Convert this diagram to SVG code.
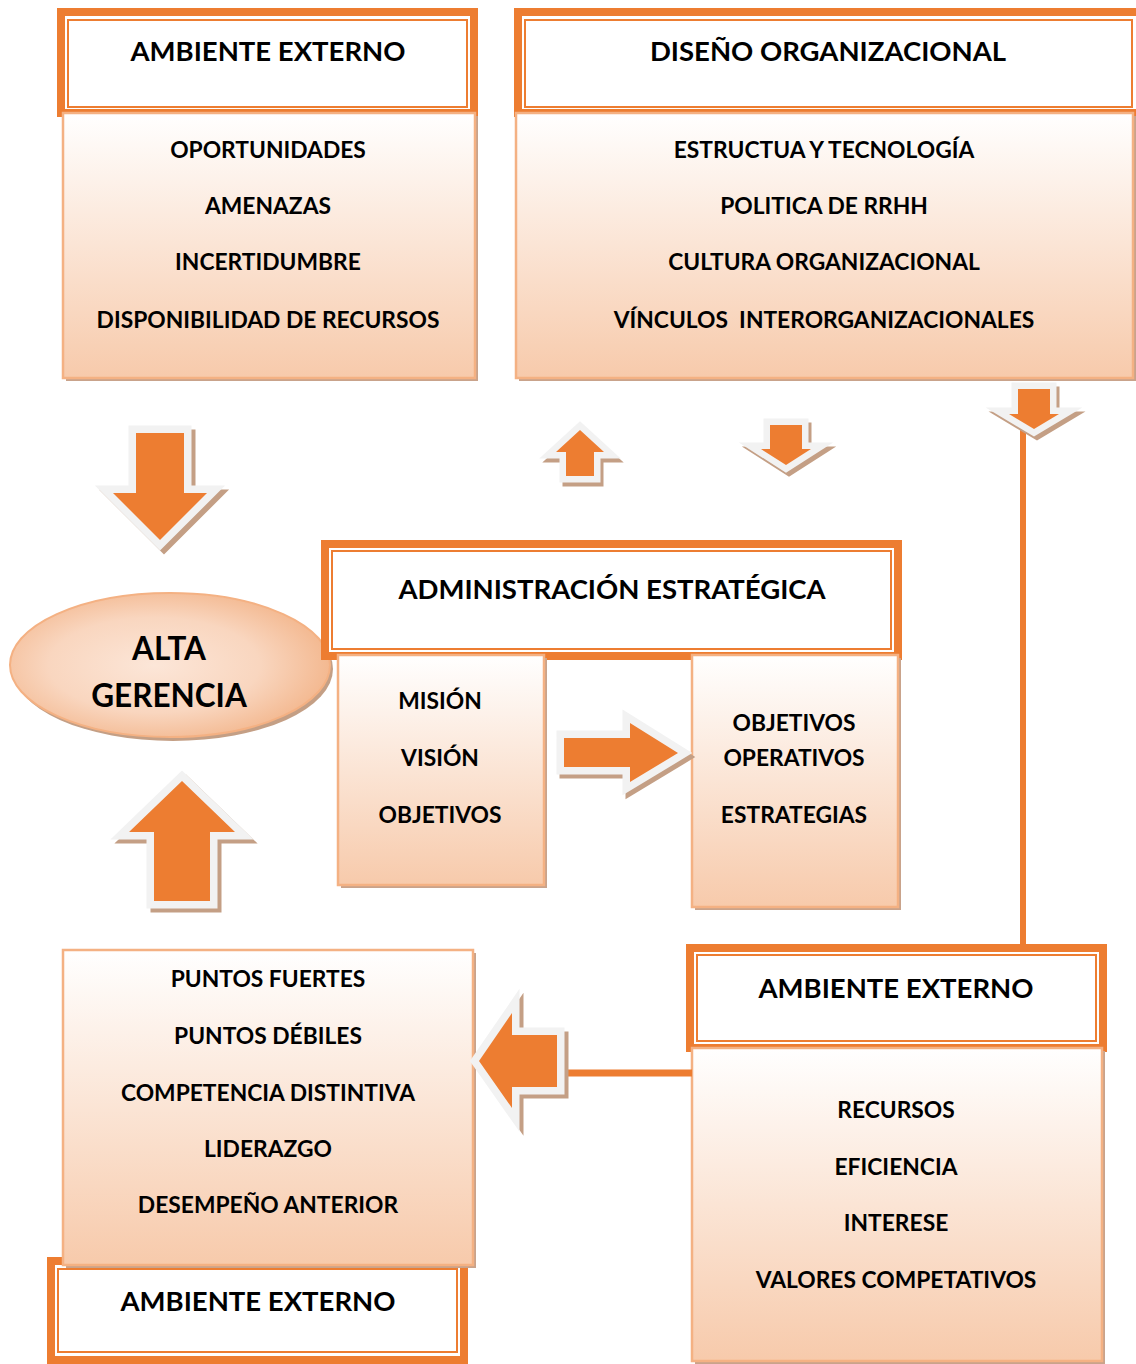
<svg xmlns="http://www.w3.org/2000/svg" xmlns:xlink="http://www.w3.org/1999/xlink" width="1136" height="1364" viewBox="0 0 1136 1364">
<style>
.frame{fill:#fff;stroke:#ED7D31;stroke-width:8}
.thin{fill:none;stroke:#ED7D31;stroke-width:2}
.box{fill:url(#gBox);stroke:#F4B183;stroke-width:2.5}
.bshadow{fill:#C9A38B}
.tt{font-family:Lato,"Open Sans",sans-serif;font-weight:bold;font-size:27.5px;fill:#000;text-anchor:middle}
.it{font-family:Lato,"Open Sans",sans-serif;font-weight:bold;font-size:22.8px;fill:#000;text-anchor:middle}
.big{font-family:Lato,"Open Sans",sans-serif;font-weight:bold;font-size:31.5px;fill:#000;text-anchor:middle}
.ash{fill:#C49F85;stroke:#C49F85;stroke-width:15;stroke-linejoin:miter}
.aol{fill:#F2F2F2;stroke:#F2F2F2;stroke-width:15;stroke-linejoin:miter}
.afi{fill:#ED7D31;stroke:none}
.line{stroke:#ED7D31;fill:none}
</style>
<defs>
<linearGradient id="gBox" x1="0" y1="0" x2="0" y2="1">
<stop offset="0" stop-color="#FFFFFF"/>
<stop offset="1" stop-color="#F7CAAB"/>
</linearGradient>
<radialGradient id="gEll" cx="0.45" cy="0.5" r="0.6">
<stop offset="0" stop-color="#FCE6D8"/>
<stop offset="0.55" stop-color="#F9D6BF"/>
<stop offset="1" stop-color="#F2B286"/>
</radialGradient>
<path id="a1" d="M136,433 H184 V493 H207 L160,540 L113,493 H136 Z"/>
<path id="a2" d="M580,430 L604,452 H594 V476 H566 V452 H556 Z"/>
<path id="a3" d="M770,425 H802 V449 H811 L786,465 L761,449 H770 Z"/>
<path id="a4" d="M1018,389 H1050 V414 H1059 L1034,429 L1009,414 H1018 Z"/>
<path id="a5" d="M564,738 H630 V723 L678,753 L630,782 V767 H564 Z"/>
<path id="a6" d="M182,781 L235,832 H210 V901 H154 V832 H129 Z"/>
<path id="a7" d="M479,1061 L512,1013 V1035 H557 V1087 H512 V1108 Z"/>
</defs>
<rect x="0" y="0" width="1136" height="1364" fill="#fff"/>

<g id="alta-gerencia">
<ellipse cx="173" cy="669" rx="160" ry="72" fill="#C49F85"/>
<ellipse cx="170" cy="665" rx="160" ry="72" fill="url(#gEll)" stroke="#F4B183" stroke-width="2"/>
<text class="big" x="169" y="660">ALTA</text>
<text class="big" x="169" y="707">GERENCIA</text>
</g>

<g id="ambiente-externo-1">
<rect class="frame" x="61" y="12" width="413" height="101"/>
<rect class="thin" x="68" y="20" width="399" height="87"/>
<text class="tt" x="268" y="61">AMBIENTE EXTERNO</text>
<rect class="bshadow" x="66" y="116" width="412" height="265"/>
<rect class="box" x="63" y="113" width="412" height="265"/>
<text class="it" x="268" y="158">OPORTUNIDADES</text>
<text class="it" x="268" y="214">AMENAZAS</text>
<text class="it" x="268" y="270">INCERTIDUMBRE</text>
<text class="it" x="268" y="328">DISPONIBILIDAD DE RECURSOS</text>
</g>

<g id="diseno-organizacional">
<rect class="frame" x="518" y="12" width="630" height="101"/>
<rect class="thin" x="525" y="20" width="607" height="87"/>
<text class="tt" x="828" y="61">DISEÑO ORGANIZACIONAL</text>
<rect class="bshadow" x="519" y="116" width="617" height="265"/>
<rect class="box" x="516" y="113" width="617" height="265"/>
<text class="it" x="824" y="158">ESTRUCTUA Y TECNOLOGÍA</text>
<text class="it" x="824" y="214">POLITICA DE RRHH</text>
<text class="it" x="824" y="270">CULTURA ORGANIZACIONAL</text>
<text class="it" x="824" y="328" xml:space="preserve">VÍNCULOS  INTERORGANIZACIONALES</text>
</g>

<g id="administracion-estrategica">
<rect class="frame" x="325" y="544" width="573" height="112"/>
<rect class="thin" x="332" y="551" width="559" height="98"/>
<text class="tt" x="612" y="599">ADMINISTRACIÓN ESTRATÉGICA</text>
</g>

<g id="mision">
<rect class="bshadow" x="341" y="658" width="206" height="230"/>
<rect class="box" x="338" y="655" width="206" height="230"/>
<text class="it" x="440" y="709">MISIÓN</text>
<text class="it" x="440" y="766">VISIÓN</text>
<text class="it" x="440" y="823">OBJETIVOS</text>
</g>

<g id="objetivos-operativos">
<rect class="bshadow" x="695" y="658" width="206" height="252"/>
<rect class="box" x="692" y="655" width="206" height="252"/>
<text class="it" x="794" y="731">OBJETIVOS</text>
<text class="it" x="794" y="766">OPERATIVOS</text>
<text class="it" x="794" y="823">ESTRATEGIAS</text>
</g>

<g id="ambiente-externo-2">
<rect class="frame" x="690" y="948" width="413" height="100"/>
<rect class="thin" x="697" y="955" width="399" height="86"/>
<text class="tt" x="896" y="998">AMBIENTE EXTERNO</text>
<rect class="bshadow" x="695" y="1051" width="410" height="313"/>
<rect class="box" x="692" y="1048" width="410" height="313"/>
<text class="it" x="896" y="1118">RECURSOS</text>
<text class="it" x="896" y="1175">EFICIENCIA</text>
<text class="it" x="896" y="1231">INTERESE</text>
<text class="it" x="896" y="1288">VALORES COMPETATIVOS</text>
</g>

<g id="ambiente-externo-3">
<rect class="frame" x="51" y="1261" width="413" height="99"/>
<rect class="thin" x="58" y="1269" width="399" height="83"/>
<text class="tt" x="258" y="1311">AMBIENTE EXTERNO</text>
</g>

<g id="fortalezas">
<rect class="bshadow" x="66" y="953" width="410" height="315"/>
<rect class="box" x="63" y="950" width="410" height="315"/>
<text class="it" x="268" y="987">PUNTOS FUERTES</text>
<text class="it" x="268" y="1044">PUNTOS DÉBILES</text>
<text class="it" x="268" y="1101">COMPETENCIA DISTINTIVA</text>
<text class="it" x="268" y="1157">LIDERAZGO</text>
<text class="it" x="268" y="1213">DESEMPEÑO ANTERIOR</text>
</g>

<g id="connectors">
<line class="line" x1="1023" y1="425" x2="1023" y2="944" stroke-width="6"/>
<line class="line" x1="555" y1="1073" x2="692" y2="1073" stroke-width="7"/>
<g id="arrow-down-left"><use xlink:href="#a1" class="ash" transform="translate(4,4)"/><use xlink:href="#a1" class="aol"/><use xlink:href="#a1" class="afi"/></g>
<g id="arrow-up-top"><use xlink:href="#a2" class="ash" transform="translate(3,4)" style="stroke-width:13"/><use xlink:href="#a2" class="aol" style="stroke-width:13"/><use xlink:href="#a2" class="afi"/></g>
<g id="arrow-down-top"><use xlink:href="#a3" class="ash" transform="translate(3,4)" style="stroke-width:13"/><use xlink:href="#a3" class="aol" style="stroke-width:13"/><use xlink:href="#a3" class="afi"/></g>
<g id="arrow-down-right"><use xlink:href="#a4" class="ash" transform="translate(3,4)" style="stroke-width:13"/><use xlink:href="#a4" class="aol" style="stroke-width:13"/><use xlink:href="#a4" class="afi"/></g>
<g id="arrow-right"><use xlink:href="#a5" class="ash" transform="translate(3,4)"/><use xlink:href="#a5" class="aol"/><use xlink:href="#a5" class="afi"/></g>
<g id="arrow-up-left"><use xlink:href="#a6" class="ash" transform="translate(4,4)"/><use xlink:href="#a6" class="aol"/><use xlink:href="#a6" class="afi"/></g>
<g id="arrow-left"><use xlink:href="#a7" class="ash" transform="translate(4,4)"/><use xlink:href="#a7" class="aol"/><use xlink:href="#a7" class="afi"/></g>
</g>
</svg>
